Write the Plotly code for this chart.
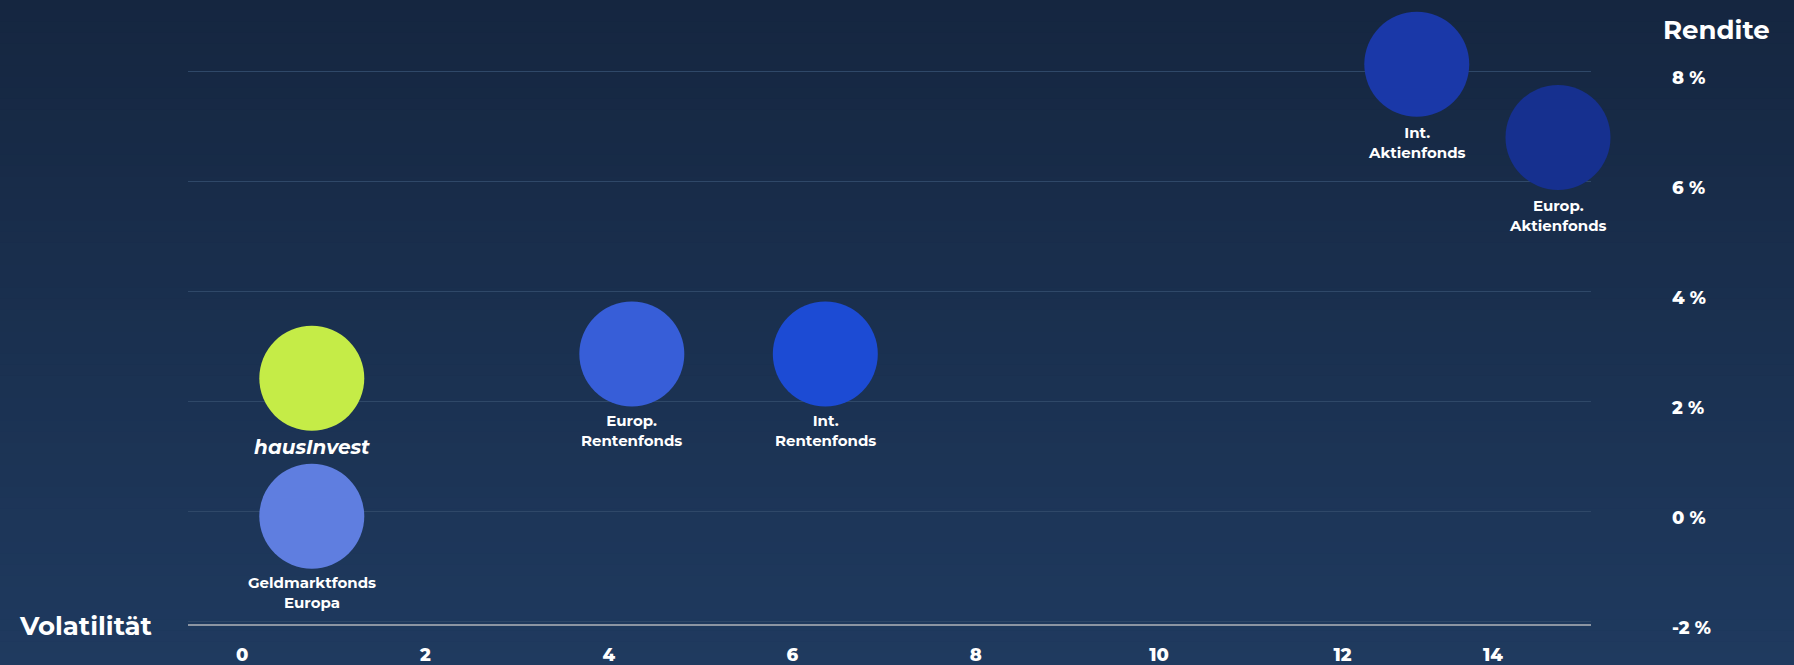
import plotly.graph_objects as go

# ---- data ----
fund_labels = ["hausInvest", "Geldmarktfonds<br>Europa", "Europ.<br>Rentenfonds",
               "Int.<br>Rentenfonds", "Int.<br>Aktienfonds", "Europ.<br>Aktienfonds"]
volatility = [0.76, 0.76, 4.25, 6.36, 12.81, 14.35]
rendite = [2.42, -0.09, 2.86, 2.86, 8.13, 6.8]
bubble_colors = ["#c5ec47", "#5f7ee0", "#375ed8", "#1c4bd4", "#1a38a8", "#16308f"]

x_tick_text = ["0", "2", "4", "6", "8", "10", "12", "14"]
x_tick_vals = [0, 2, 4, 6, 8, 10, 12, 13.64]
y_tick_vals = [-2, 0, 2, 4, 6, 8]
y_tick_text = ["-2 %", "0 %", "2 %", "4 %", "6 %", "8 %"]

FONT = "Montserrat, 'Open Sans', Lato, sans-serif"
W, H = 1794, 665
L, R, T, B = 188, 203, 44, 41

fig = go.Figure()

fig.add_trace(go.Scatter(
    x=volatility, y=rendite, mode="markers",
    marker=dict(size=105, color=bubble_colors, line=dict(width=0)),
    cliponaxis=False, hoverinfo="skip", showlegend=False,
))

annotations = []
for i in range(len(fund_labels)):
    is_haus = i == 0
    annotations.append(dict(
        x=volatility[i], y=rendite[i], xref="x", yref="y",
        text="<i>" + fund_labels[i] + "</i>" if is_haus else fund_labels[i],
        showarrow=False, xanchor="center", yanchor="top",
        yshift=-57 if i >= 4 else -55,
        font=dict(family=FONT, size=20 if is_haus else 15, color="white", weight="bold"),
    ))

# gradient background via stacked bands
shapes = []
n = 60
top_c = (0x15, 0x26, 0x40)
bot_c = (0x1f, 0x3a, 0x5f)
ph = H - T - B
pw = W - L - R
for k in range(n):
    y_top_px = k * H / n - 1
    y_bot_px = (k + 1) * H / n + 1
    f = (k + 0.5) / n
    c = tuple(round(top_c[j] + (bot_c[j] - top_c[j]) * f) for j in range(3))
    shapes.append(dict(
        type="rect", xref="paper", yref="paper", layer="below",
        x0=-L / pw, x1=1 + R / pw,
        y0=(H - B - y_bot_px) / ph, y1=(H - B - y_top_px) / ph,
        fillcolor="rgb(%d,%d,%d)" % c, line=dict(width=0),
    ))

annotations += [
    dict(text="Rendite", x=(1716 - L) / pw, y=(H - B - 30) / ph,
         xref="paper", yref="paper", xanchor="center", yanchor="middle",
         showarrow=False, font=dict(family=FONT, size=26, color="white", weight="bold")),
    dict(text="Volatilität", x=(85 - L) / pw, y=(H - B - 626) / ph,
         xref="paper", yref="paper", xanchor="center", yanchor="middle",
         showarrow=False, font=dict(family=FONT, size=26, color="white", weight="bold")),
]

fig.update_layout(
    template="none",
    width=W, height=H,
    margin=dict(l=L, r=R, t=T, b=B),
    paper_bgcolor="#1a3050", plot_bgcolor="rgba(0,0,0,0)",
    shapes=shapes,
    xaxis=dict(range=[-0.59, 14.71], tickvals=x_tick_vals, ticktext=x_tick_text,
               showgrid=False, zeroline=False, showline=True, linecolor="#8c95a2",
               linewidth=2, ticks="", ticklabelstandoff=13, automargin=False,
               tickfont=dict(family=FONT, size=18, color="white", weight=800),
               fixedrange=True),
    yaxis=dict(range=[-2.05, 8.5], tickvals=y_tick_vals, ticktext=y_tick_text,
               side="right", showgrid=True, gridcolor="#2f4868", gridwidth=1,
               zeroline=False, showline=False, ticks="", ticklabelstandoff=80,
               ticklabelshift=6, automargin=False,
               tickfont=dict(family=FONT, size=18, color="white", weight=800),
               fixedrange=True),
    annotations=annotations,
)

fig.write_html("out.html")
